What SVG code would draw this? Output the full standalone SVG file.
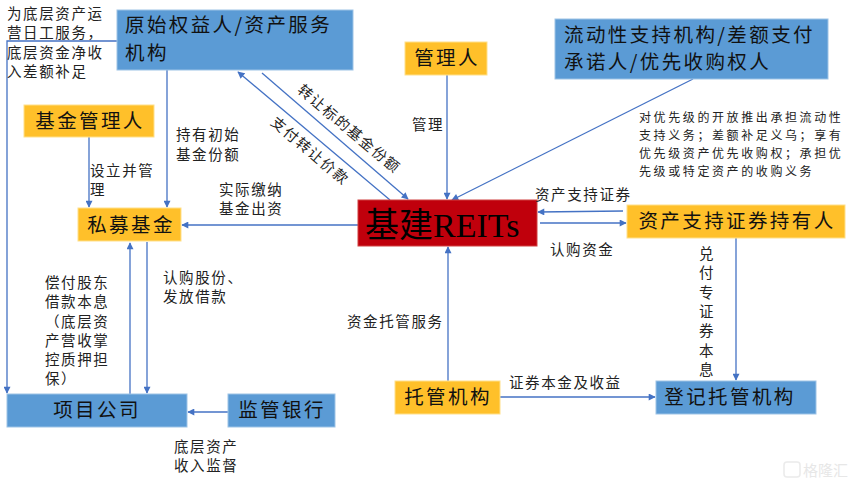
<svg xmlns="http://www.w3.org/2000/svg" width="858" height="486" viewBox="0 0 858 486">
<style>
.blue{fill:#5B9BD5;stroke:#9DC3E6;stroke-width:1}
.orange{fill:#FFC02A;stroke:#FFE08A;stroke-width:1}
.red{fill:#C0000C;stroke:#D04040;stroke-width:1}
.nt{font-family:"Noto Sans CJK SC","Noto Sans",sans-serif;font-size:19.5px;letter-spacing:2.4px;fill:#111}
.lb{font-family:"Noto Sans CJK SC","Noto Sans",sans-serif;font-size:14.5px;letter-spacing:1.6px;fill:#222}
.sm{font-family:"Noto Sans CJK SC","Noto Sans",sans-serif;font-size:12px;letter-spacing:2.6px;fill:#222}
.ln{fill:none;stroke:#4472C4;stroke-width:1.3}
</style>
<defs>
<marker id="ah" viewBox="0 0 10 10" refX="9" refY="5" markerWidth="8" markerHeight="7" markerUnits="userSpaceOnUse" orient="auto">
<path d="M0,0 L10,5 L0,10 z" fill="#4472C4"/>
</marker>
</defs>
<rect width="858" height="486" fill="#fff"/>

<g id="connectors">
<polyline class="ln" points="117,41 7,41 7,393" marker-end="url(#ah)"/>
<line class="ln" x1="167" y1="70" x2="167" y2="207" marker-end="url(#ah)"/>
<line class="ln" x1="89" y1="137" x2="89" y2="207" marker-end="url(#ah)"/>
<line class="ln" x1="358" y1="225" x2="182" y2="225" marker-end="url(#ah)"/>
<line class="ln" x1="130" y1="394" x2="130" y2="243" marker-end="url(#ah)"/>
<line class="ln" x1="147" y1="242" x2="147" y2="393" marker-end="url(#ah)"/>
<line class="ln" x1="228" y1="412" x2="188" y2="412" marker-end="url(#ah)"/>
<line class="ln" x1="390" y1="200" x2="238" y2="72" marker-end="url(#ah)"/>
<line class="ln" x1="262" y1="73" x2="408" y2="199" marker-end="url(#ah)"/>
<line class="ln" x1="447" y1="75" x2="447" y2="199" marker-end="url(#ah)"/>
<line class="ln" x1="693" y1="79" x2="452" y2="200" marker-end="url(#ah)"/>
<line class="ln" x1="623" y1="211" x2="538" y2="212" marker-end="url(#ah)"/>
<line class="ln" x1="540" y1="223" x2="626" y2="223" marker-end="url(#ah)"/>
<line class="ln" x1="448" y1="381" x2="448" y2="247" marker-end="url(#ah)"/>
<line class="ln" x1="500" y1="397" x2="655" y2="397" marker-end="url(#ah)"/>
<line class="ln" x1="736" y1="238" x2="736" y2="380" marker-end="url(#ah)"/>
</g>

<g id="node-yuanshi">
<rect class="blue" x="117" y="10" width="236" height="60"/>
<text class="nt" x="125" y="32">原始权益人/资产服务</text>
<text class="nt" x="125" y="60">机构</text>
</g>
<g id="node-jijinguanliren">
<rect class="orange" x="24" y="105" width="130" height="32"/>
<text class="nt" x="90" y="128" text-anchor="middle">基金管理人</text>
</g>
<g id="node-simujijin">
<rect class="orange" x="78" y="208" width="103" height="33"/>
<text class="nt" x="131" y="232" text-anchor="middle">私募基金</text>
</g>
<g id="node-guanliren">
<rect class="orange" x="405" y="42" width="82" height="33"/>
<text class="nt" x="447" y="65" text-anchor="middle">管理人</text>
</g>
<g id="node-liudongxing">
<rect class="blue" x="555" y="19" width="273" height="60"/>
<text class="nt" x="564" y="42">流动性支持机构/差额支付</text>
<text class="nt" x="564" y="69">承诺人/优先收购权人</text>
</g>
<g id="node-reits">
<rect class="red" x="358" y="200" width="179" height="46"/>
<text x="365" y="237" font-family="'Liberation Serif','Noto Sans CJK SC',serif" font-size="34" fill="#000">基建REITs</text>
</g>
<g id="node-chiyouren">
<rect class="orange" x="627" y="205" width="218" height="33"/>
<text class="nt" x="737" y="228" text-anchor="middle">资产支持证券持有人</text>
</g>
<g id="node-xiangmu">
<rect class="blue" x="7" y="394" width="180" height="33"/>
<text class="nt" x="97" y="417" text-anchor="middle">项目公司</text>
</g>
<g id="node-jianguan">
<rect class="blue" x="228" y="394" width="107" height="33"/>
<text class="nt" x="282" y="417" text-anchor="middle">监管银行</text>
</g>
<g id="node-tuoguan">
<rect class="orange" x="395" y="381" width="105" height="33"/>
<text class="nt" x="448" y="404" text-anchor="middle">托管机构</text>
</g>
<g id="node-dengji">
<rect class="blue" x="656" y="381" width="160" height="33"/>
<text class="nt" x="730" y="404" text-anchor="middle">登记托管机构</text>
</g>

<g id="labels">
<text class="lb" x="7" y="19">为底层资产运</text>
<text class="lb" x="7" y="38">营日工服务，</text>
<text class="lb" x="7" y="58">底层资金净收</text>
<text class="lb" x="7" y="77">入差额补足</text>
<text class="lb" x="176" y="140">持有初始</text>
<text class="lb" x="176" y="160">基金份额</text>
<text class="lb" x="90" y="176">设立并管</text>
<text class="lb" x="90" y="195">理</text>
<text class="lb" x="219" y="195">实际缴纳</text>
<text class="lb" x="219" y="214">基金出资</text>
<text class="lb" transform="translate(349,129) rotate(40)" x="0" y="5" text-anchor="middle" letter-spacing="3.5">转让标的基金份额</text>
<text class="lb" transform="translate(310,151) rotate(40)" x="0" y="5" text-anchor="middle" letter-spacing="4">支付转让价款</text>
<text class="lb" x="412" y="130">管理</text>
<text class="sm" x="639" y="122">对优先级的开放推出承担流动性</text>
<text class="sm" x="639" y="140">支持义务；差额补足义乌；享有</text>
<text class="sm" x="639" y="158">优先级资产优先收购权；承担优</text>
<text class="sm" x="639" y="176">先级或特定资产的收购义务</text>
<text class="lb" x="535" y="200">资产支持证券</text>
<text class="lb" x="550" y="255">认购资金</text>
<text class="lb" x="707" text-anchor="middle" letter-spacing="0"><tspan x="707" y="259">兑</tspan><tspan x="707" y="278">付</tspan><tspan x="707" y="298">专</tspan><tspan x="707" y="317">证</tspan><tspan x="707" y="336">券</tspan><tspan x="707" y="356">本</tspan><tspan x="707" y="375">息</tspan></text>
<text class="lb" x="347" y="327">资金托管服务</text>
<text class="lb" x="509" y="388">证券本金及收益</text>
<text class="lb" x="163" y="283">认购股份、</text>
<text class="lb" x="163" y="302">发放借款</text>
<text class="lb" x="45" y="288">偿付股东</text>
<text class="lb" x="45" y="307">借款本息</text>
<text class="lb" x="45" y="327">（底层资</text>
<text class="lb" x="45" y="346">产营收掌</text>
<text class="lb" x="45" y="365">控质押担</text>
<text class="lb" x="45" y="384">保）</text>
<text class="lb" x="174" y="452">底层资产</text>
<text class="lb" x="174" y="471">收入监督</text>
</g>

<g id="watermark" opacity="0.5">
<rect x="784" y="462" width="16" height="15" rx="3" fill="none" stroke="#d8d8d8" stroke-width="1.5"/>
<text x="803" y="476" font-family="'Noto Sans CJK SC',sans-serif" font-size="15" fill="#d0d0d0">格隆汇</text>
</g>
</svg>
